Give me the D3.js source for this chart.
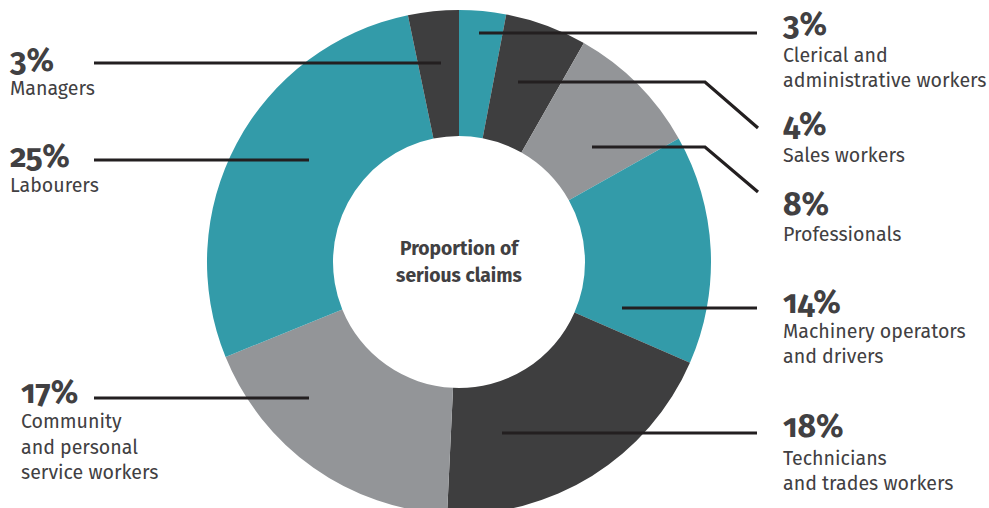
<!DOCTYPE html>
<html>
<head>
<meta charset="utf-8">
<script src="https://cdn.jsdelivr.net/npm/d3@7"></script>
<style>
  html, body { margin: 0; padding: 0; background: #fff; }
  svg { display: block; }
  text { font-family: 'Fira Sans', 'Open Sans', sans-serif; fill: #414042; }
  .pct { font-variant-numeric: oldstyle-nums; }
</style>
</head>
<body>
<svg id="chart"></svg>
<script>
// occupations, clockwise from 12 o'clock
const categories = [
  'Clerical and administrative workers',
  'Sales workers',
  'Professionals',
  'Machinery operators and drivers',
  'Technicians and trades workers',
  'Community and personal service workers',
  'Labourers',
  'Managers'
];
// percentages printed on the labels
const labelPct = [3, 4, 8, 14, 18, 17, 25, 3];
// slice sizes as drawn (measured from the arc angles)
const sliceShare = [3.0, 5.25, 8.6, 14.7, 19.2, 18.1, 27.9, 3.25];
// label line breaks
const labelLines = [
  ['Clerical and', 'administrative workers'],
  ['Sales workers'],
  ['Professionals'],
  ['Machinery operators', 'and drivers'],
  ['Technicians', 'and trades workers'],
  ['Community', 'and personal', 'service workers'],
  ['Labourers'],
  ['Managers']
];

const width = 989;
const height = 508;
const cx = 459, cy = 262;
const outerR = 252, innerR = 126;

const color = d3.scaleOrdinal()
  .domain(categories)
  .range(['#339ba9', '#3e3e3f', '#939598', '#339ba9', '#3e3e3f', '#939598', '#339ba9', '#3e3e3f']);

// annotation layout: leader polyline + text block position
const layout = [
  { line: [[479, 33], [757, 33]], x: 783, y: 35, dy: [27, 52] },
  { line: [[518, 82], [705, 82], [758, 128]], x: 783, y: 135, dy: [27] },
  { line: [[592, 147], [705, 147], [758, 192]], x: 783, y: 215, dy: [26] },
  { line: [[622, 308], [757, 308]], x: 783, y: 313, dy: [25, 50] },
  { line: [[502, 433], [757, 433]], x: 783, y: 437, dy: [28, 53] },
  { line: [[94, 398], [309, 398]], x: 21, y: 403, dy: [25, 51, 76] },
  { line: [[94, 160], [309, 160]], x: 10, y: 167, dy: [25] },
  { line: [[94, 63], [441, 63]], x: 10, y: 71, dy: [24] }
];

const svg = d3.select('#chart')
  .attr('width', width)
  .attr('height', height);

const pie = d3.pie().sort(null).value(d => d);
const arc = d3.arc().innerRadius(innerR).outerRadius(outerR);

const g = svg.append('g')
  .attr('transform', `translate(${cx}, ${cy})`);

g.selectAll('path')
  .data(pie(sliceShare))
  .enter().append('path')
  .attr('d', arc)
  .attr('fill', (d, i) => color(categories[i]));

g.append('text')
  .attr('text-anchor', 'middle')
  .attr('font-weight', 700)
  .attr('font-size', 19.3)
  .selectAll('tspan')
  .data(['Proportion of', 'serious claims'])
  .enter().append('tspan')
  .attr('x', 0)
  .attr('y', (d, i) => -7 + i * 27)
  .text(d => d);

const line = d3.line();

const ann = svg.append('g').selectAll('g')
  .data(categories)
  .enter().append('g');

ann.append('path')
  .attr('d', (d, i) => line(layout[i].line))
  .attr('fill', 'none')
  .attr('stroke', '#231f20')
  .attr('stroke-width', 3.2);

ann.append('text')
  .attr('class', 'pct')
  .attr('x', (d, i) => layout[i].x)
  .attr('y', (d, i) => layout[i].y)
  .attr('font-size', 32)
  .attr('font-weight', 700)
  .text((d, i) => `${labelPct[i]}%`);

ann.each(function (d, i) {
  d3.select(this).append('text')
    .attr('font-size', 19.6)
    .attr('fill', '#4a494b')
    .selectAll('tspan')
    .data(labelLines[i])
    .enter().append('tspan')
    .attr('x', layout[i].x)
    .attr('y', (t, j) => layout[i].y + layout[i].dy[j])
    .text(t => t);
});
</script>
</body>
</html>
